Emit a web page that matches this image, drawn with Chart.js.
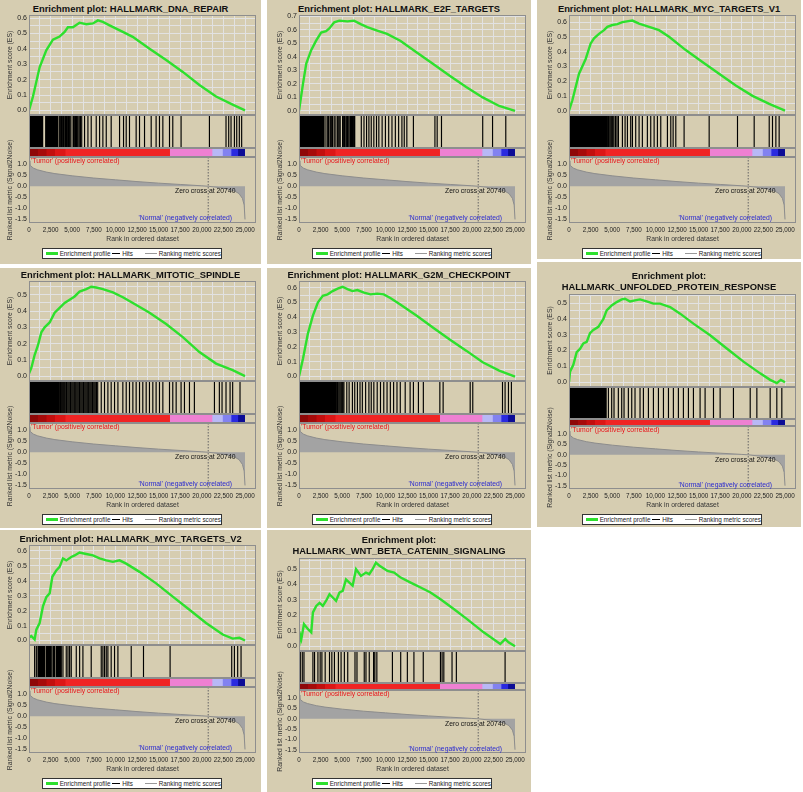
<!DOCTYPE html>
<html lang="en">
<head>
<meta charset="UTF-8">
<title>GSEA enrichment plots</title>
<script src="https://cdn.jsdelivr.net/npm/chart.js"></script>
<style>
  html, body { margin: 0; padding: 0; background: #fff; }
  body { width: 803px; height: 792px; position: relative; overflow: hidden; font-family: 'Liberation Sans', Arial, sans-serif; }
  .panel { position: absolute; background: #d6cdb1; }
  .panel canvas { position: absolute; }
  .ttl { position: absolute; left: 0; right: 0; text-align: center; font-weight: bold; font-size: 9.4px; line-height: 11px; color: #111; white-space: nowrap; }
  .legend { position: absolute; width: 180px; height: 11px; background: #fff; border: 1px solid #333; box-sizing: border-box;
            display: flex; align-items: center; font-size: 6.3px; color: #222; white-space: nowrap; }
  .legend .sw { display: inline-block; height: 0; margin: 0 2px 0 2px; }
</style>
</head>
<body>
<script>
// ---- shared ranked list (Signal2Noise) ----
const metricRank  = [0, 100, 500, 1000, 2000, 3000, 5000, 7500, 10000, 12500, 15000, 17500, 20000, 20740, 22000, 23000, 23800, 24300, 24700, 24900, 25000];
const metricValue = [1.15, 0.95, 0.82, 0.74, 0.64, 0.57, 0.47, 0.37, 0.29, 0.21, 0.14, 0.08, 0.02, 0, -0.06, -0.13, -0.22, -0.33, -0.55, -0.85, -1.5];
const zeroCross = 20740;
const bandEdges  = [0, 1000, 2000, 3000, 4200, 16300, 21200, 22400, 23400, 24200, 25000];
const bandColors = ['#8e0808', '#a60a0a', '#c20e0e', '#dc1616', '#f02424', '#ee80d2', '#b8b8f6', '#8282f0', '#2a2ae0', '#0c0c96'];
const posLabel = "'Tumor' (positively correlated)";
const negLabel = "'Normal' (negatively correlated)";
const xMax = 26270;

// ---- tick values ----
const rankTicks = [0, 2500, 5000, 7500, 10000, 12500, 15000, 17500, 20000, 22500, 25000];
const rankGrid = [0, 1250, 2500, 3750, 5000, 6250, 7500, 8750, 10000, 11250, 12500, 13750, 15000, 16250, 17500, 18750, 20000, 21250, 22500, 23750, 25000];
const esTicks = [0, 0.05, 0.1, 0.15, 0.2, 0.25, 0.3, 0.35, 0.4, 0.45, 0.5, 0.55, 0.6, 0.65, 0.7];
const metricTicks = [-1.5, -1.0, -0.5, 0, 0.5, 1.0];

// ---- running enrichment scores ----
const rankDNA = [0, 460, 1230, 2000, 2770, 3540, 4120, 4500, 5080, 5850, 6630, 7400, 7970, 8550, 9320, 10860, 12000, 13950, 15870, 17800, 19720, 21650, 23570, 25000];
const esDNA   = [0, 0.09, 0.28, 0.39, 0.46, 0.48, 0.51, 0.54, 0.54, 0.57, 0.56, 0.565, 0.585, 0.575, 0.553, 0.51, 0.478, 0.40, 0.327, 0.25, 0.165, 0.09, 0.037, 0];

const rankE2F = [0, 460, 840, 1410, 1980, 2560, 3130, 3510, 4080, 4660, 5610, 6370, 7140, 7900, 9050, 10190, 11720, 13630, 15530, 17440, 19350, 21260, 23170, 25000];
const esE2F   = [0, 0.2, 0.35, 0.45, 0.52, 0.58, 0.59, 0.61, 0.656, 0.668, 0.663, 0.668, 0.643, 0.62, 0.594, 0.57, 0.52, 0.433, 0.347, 0.26, 0.178, 0.10, 0.037, 0];

const rankMYC1 = [0, 390, 1160, 1930, 2510, 2900, 3470, 4050, 4440, 5020, 5600, 6180, 7340, 8110, 9270, 10420, 11580, 13510, 15440, 17370, 19300, 21240, 23170, 25000];
const esMYC1   = [0, 0.07, 0.25, 0.35, 0.455, 0.49, 0.52, 0.545, 0.568, 0.58, 0.586, 0.60, 0.61, 0.59, 0.568, 0.545, 0.50, 0.41, 0.33, 0.25, 0.17, 0.10, 0.045, 0];

const rankMIT = [0, 270, 650, 1040, 1430, 1810, 2390, 2970, 3540, 4120, 4700, 5280, 5850, 6630, 7200, 7780, 8550, 9710, 10860, 12020, 13950, 15870, 17800, 19720, 21650, 23570, 25000];
const esMIT   = [0.016, 0.05, 0.13, 0.19, 0.27, 0.30, 0.33, 0.39, 0.42, 0.45, 0.47, 0.49, 0.52, 0.535, 0.55, 0.545, 0.535, 0.515, 0.485, 0.45, 0.39, 0.32, 0.24, 0.148, 0.077, 0.037, 0];

const rankG2M = [0, 460, 1030, 1600, 2180, 2750, 3320, 3890, 4470, 5040, 5610, 6180, 6760, 7520, 8280, 9050, 9810, 10570, 11720, 13630, 15530, 17440, 19350, 21260, 23170, 25000];
const esG2M   = [0, 0.12, 0.29, 0.41, 0.50, 0.545, 0.555, 0.577, 0.593, 0.606, 0.59, 0.577, 0.584, 0.566, 0.555, 0.56, 0.555, 0.53, 0.487, 0.41, 0.33, 0.25, 0.175, 0.096, 0.04, 0];

const rankUPR = [0, 120, 500, 890, 1270, 1660, 2050, 2430, 2820, 3400, 3980, 4360, 4940, 5520, 6100, 6480, 7070, 7640, 8220, 8990, 9770, 10540, 11700, 12860, 14400, 16330, 18260, 20190, 22120, 23280, 24050, 24510, 25000];
const esUPR   = [0, 0.067, 0.11, 0.19, 0.21, 0.245, 0.255, 0.31, 0.33, 0.35, 0.40, 0.454, 0.485, 0.506, 0.523, 0.527, 0.51, 0.517, 0.523, 0.51, 0.496, 0.496, 0.475, 0.433, 0.37, 0.297, 0.213, 0.13, 0.056, 0.015, -0.006, 0.015, 0];

const rankMYC2 = [0, 270, 650, 850, 1230, 1620, 2000, 2390, 2700, 3160, 3540, 3930, 4310, 4890, 5280, 5850, 6630, 7400, 8170, 8940, 9710, 10480, 11250, 12790, 14710, 16640, 18570, 20490, 22420, 23570, 24350, 25000];
const esMYC2   = [0.02, 0.03, 0.007, 0.073, 0.117, 0.23, 0.29, 0.316, 0.427, 0.47, 0.493, 0.55, 0.537, 0.56, 0.57, 0.59, 0.58, 0.57, 0.55, 0.537, 0.527, 0.537, 0.515, 0.46, 0.383, 0.294, 0.206, 0.117, 0.04, 0.013, 0.018, 0];

const rankWNT = [0, 150, 270, 575, 1040, 1420, 1610, 2000, 2380, 2760, 3140, 3530, 3910, 4290, 4680, 5060, 5440, 5830, 6210, 6600, 7170, 7750, 8130, 8510, 8900, 9280, 10240, 11010, 11770, 12920, 14070, 15220, 16380, 17910, 19450, 21370, 23290, 23870, 24250, 25000];
const esWNT   = [0, 0.07, 0.047, 0.143, 0.11, 0.09, 0.218, 0.26, 0.28, 0.26, 0.293, 0.335, 0.314, 0.293, 0.346, 0.357, 0.43, 0.41, 0.39, 0.496, 0.453, 0.474, 0.464, 0.496, 0.538, 0.52, 0.485, 0.474, 0.442, 0.41, 0.378, 0.346, 0.303, 0.24, 0.175, 0.09, 0.015, 0.047, 0.026, 0];

// ---- hit positions (rank of each gene set member) ----
const hitsDNA = [20, 110, 190, 260, 340, 420, 500, 580, 650, 730, 810, 880, 960, 1040, 1110, 1190, 1270, 1350, 1430, 1500, 1580, 1930, 2010, 2090, 2170, 2250, 2330, 2400, 2480, 2560, 2640, 2720, 2800, 2880, 2960, 3040, 3120, 3200, 3290, 3480, 3620, 3760, 3900, 4000, 4150, 4250, 4330, 4420, 4560, 4700, 4850, 5100, 5230, 5370, 5500, 5640, 5800, 5950, 6100, 6430, 6820, 7200, 7780, 8170, 8550, 8940, 9510, 10480, 10940, 11250, 11630, 12400, 12790, 13370, 14140, 14710, 15100, 15490, 16260, 16640, 17600, 20880, 22800, 23110, 23380, 23770, 24040, 24340, 24610];
const hitsE2F = [10, 90, 170, 250, 330, 410, 490, 570, 650, 730, 810, 890, 970, 1050, 1130, 1210, 1290, 1370, 1450, 1530, 1610, 1690, 1770, 1850, 1930, 2010, 2090, 2170, 2250, 2330, 2410, 2490, 2570, 2650, 2730, 2810, 2900, 3120, 3320, 3450, 3630, 3780, 3890, 4080, 4270, 4470, 4620, 4770, 5040, 5180, 5310, 5470, 5610, 5760, 5920, 6050, 6180, 6320, 6450, 7210, 7520, 7820, 8090, 8360, 8660, 8970, 9240, 9620, 10000, 10380, 10760, 11150, 11530, 11910, 12180, 12480, 13240, 15730, 15990, 16490, 21260, 22400, 23930];
const hitsMYC1 = [10, 100, 190, 280, 370, 460, 550, 640, 730, 820, 910, 1000, 1090, 1180, 1270, 1360, 1450, 1540, 1630, 1720, 1810, 1900, 1990, 2080, 2170, 2260, 2350, 2440, 2530, 2620, 2710, 2800, 2890, 2980, 3070, 3160, 3250, 3340, 3430, 3520, 3610, 3700, 3820, 3950, 4080, 4200, 4330, 4470, 4600, 4750, 4900, 5050, 5200, 5380, 5550, 5720, 6180, 6490, 6760, 7140, 7340, 7720, 8110, 8490, 9070, 9460, 9850, 10230, 10620, 11390, 11780, 12050, 12360, 13320, 16220, 19500, 21430, 23170, 23550, 23940, 24320];
const hitsMIT = [10, 100, 190, 280, 370, 460, 550, 640, 730, 820, 910, 1000, 1090, 1180, 1270, 1360, 1450, 1540, 1630, 1720, 1810, 1900, 1990, 2080, 2170, 2260, 2350, 2440, 2530, 2620, 2710, 2800, 2900, 3000, 3120, 3250, 3380, 3500, 3640, 3780, 3920, 4060, 4200, 4350, 4500, 4650, 4800, 4950, 5100, 5250, 5400, 5550, 5700, 5850, 6000, 6150, 6300, 6450, 6600, 6750, 6900, 7050, 7200, 7350, 7500, 7650, 7800, 7950, 8360, 8740, 9130, 9510, 9900, 10290, 10860, 11250, 11630, 12020, 12400, 12790, 13170, 13560, 13940, 14330, 14710, 15100, 15490, 16260, 16640, 17030, 17600, 17990, 18570, 19140, 21460, 22030, 22340, 22800, 23270, 23570, 24420];
const hitsG2M = [10, 90, 170, 250, 330, 410, 490, 570, 650, 730, 810, 890, 970, 1050, 1130, 1210, 1290, 1370, 1450, 1530, 1610, 1690, 1770, 1850, 1930, 2010, 2090, 2170, 2250, 2330, 2410, 2490, 2570, 2650, 2730, 2810, 2890, 2970, 3050, 3150, 3250, 3350, 3450, 3560, 3680, 3800, 3920, 4050, 4180, 4310, 4450, 4600, 4750, 4900, 5050, 5200, 5530, 5800, 6180, 6450, 6760, 7060, 7330, 7710, 8090, 8360, 8660, 9050, 9430, 9810, 10190, 10570, 10950, 11340, 11720, 12290, 12860, 13240, 13820, 14390, 16300, 16680, 19810, 20110, 23550, 23850, 24240, 24580];
const hitsUPR = [20, 150, 280, 410, 540, 670, 800, 930, 1060, 1190, 1320, 1450, 1580, 1710, 1840, 1970, 2100, 2230, 2360, 2490, 2620, 2750, 2880, 3010, 3140, 3270, 3400, 3530, 3660, 3790, 3920, 4050, 4180, 4300, 4560, 4940, 5210, 5710, 6100, 6370, 6870, 7260, 7640, 8220, 8610, 9190, 9770, 10350, 10930, 11510, 12080, 12660, 13240, 13820, 14400, 15170, 15750, 16720, 17490, 19030, 20970, 21740, 23280, 24050, 24630];
const hitsMYC2 = [650, 850, 1040, 1100, 1230, 1300, 1430, 1500, 1620, 1700, 1810, 2000, 2100, 2200, 2300, 2390, 2500, 2580, 2770, 2900, 2970, 3160, 3250, 3350, 3450, 3540, 3650, 3740, 3930, 4310, 4510, 4700, 4890, 5470, 5860, 6240, 7200, 8360, 8550, 8740, 8940, 9130, 9510, 9900, 10290, 11830, 13250, 16330, 23460, 23770, 24150, 24540];
const hitsWNT = [150, 380, 575, 1610, 1800, 2190, 2450, 2650, 3030, 3530, 3800, 4100, 4560, 4870, 5250, 5640, 6480, 6710, 7550, 7750, 8130, 8630, 8780, 9010, 10810, 11770, 12540, 13300, 14380, 16370, 16560, 16760, 17710, 18210, 23850];

// ---- panel layout ----
const LAYOUT1 = { titleTop: [3], esTop: 15, esBot: 115, hitsBot: 148, barBot: 157, metBot: 223, metMax: 1.32 };
const LAYOUT2 = { titleTop: [4, 15], esTop: 28, esBot: 121, hitsBot: 153, barBot: 160, metBot: 223, metMax: 1.4 };
const metMin = -1.66;

const panels = [
  { title: ['Enrichment plot: HALLMARK_DNA_REPAIR'], rank: rankDNA, es: esDNA, hits: hitsDNA, esMax: 0.62, box: [0, 0, 261, 264], ox: 0, oy: 0 },
  { title: ['Enrichment plot: HALLMARK_E2F_TARGETS'], rank: rankE2F, es: esE2F, hits: hitsE2F, esMax: 0.71, box: [267, 0, 264, 264], ox: 270, oy: 0 },
  { title: ['Enrichment plot: HALLMARK_MYC_TARGETS_V1'], rank: rankMYC1, es: esMYC1, hits: hitsMYC1, esMax: 0.648, box: [537, 0, 264, 259], ox: 540, oy: 0 },
  { title: ['Enrichment plot: HALLMARK_MITOTIC_SPINDLE'], rank: rankMIT, es: esMIT, hits: hitsMIT, esMax: 0.585, box: [0, 268, 261, 260], ox: 0, oy: 266 },
  { title: ['Enrichment plot: HALLMARK_G2M_CHECKPOINT'], rank: rankG2M, es: esG2M, hits: hitsG2M, esMax: 0.645, box: [267, 268, 264, 260], ox: 270, oy: 266 },
  { title: ['Enrichment plot:', 'HALLMARK_UNFOLDED_PROTEIN_RESPONSE'], rank: rankUPR, es: esUPR, hits: hitsUPR, esMax: 0.557, box: [537, 262, 264, 265], ox: 540, oy: 266, two: true },
  { title: ['Enrichment plot: HALLMARK_MYC_TARGETS_V2'], rank: rankMYC2, es: esMYC2, hits: hitsMYC2, esMax: 0.64, box: [0, 530, 261, 262], ox: 0, oy: 530 },
  { title: ['Enrichment plot:', 'HALLMARK_WNT_BETA_CATENIN_SIGNALING'], rank: rankWNT, es: esWNT, hits: hitsWNT, esMax: 0.568, box: [267, 530, 264, 262], ox: 270, oy: 530, two: true }
];

Chart.defaults.font.family = "'Liberation Sans', Arial, sans-serif";
Chart.defaults.font.size = 7;
Chart.defaults.color = '#222';
Chart.defaults.animation = false;
Chart.defaults.plugins.legend.display = false;
Chart.defaults.plugins.tooltip.enabled = false;

const axisWidth = s => { s.width = 29; };
// replace generated ticks with a fixed list (clipped to the axis range)
const useTicks = list => s => { s.ticks = list.filter(v => v >= s.min - 1e-9 && v <= s.max + 1e-9).map(v => ({ value: v })); };
const titleFont = { size: 6.8 };

// grey frame around every stacked sub-plot
const framePlugin = {
  id: 'frame',
  afterDatasetsDraw(chart) {
    const { ctx, chartArea: a } = chart;
    ctx.save();
    ctx.strokeStyle = '#8e8e8e';
    ctx.lineWidth = 1;
    Object.values(chart.scales).forEach(s => {
      if (s.axis !== 'y') return;
      ctx.strokeRect(Math.round(a.left) + 0.5, Math.round(s.top) + 0.5, Math.round(a.right - a.left) - 1, Math.round(s.bottom - s.top) - 1);
    });
    ctx.restore();
  }
};

// phenotype labels and zero-cross note on the ranked list plot
const notePlugin = {
  id: 'notes',
  afterDatasetsDraw(chart) {
    const { ctx } = chart;
    const x = chart.scales.x, y = chart.scales.yMet;
    ctx.save();
    ctx.font = "6.8px 'Liberation Sans', Arial, sans-serif";
    ctx.textBaseline = 'middle';
    ctx.textAlign = 'left';
    ctx.fillStyle = '#e8141a';
    ctx.fillText(posLabel, x.getPixelForValue(0) + 2, y.top + 4.5);
    ctx.textAlign = 'center';
    ctx.fillStyle = '#111';
    ctx.fillText('Zero cross at ' + zeroCross, x.getPixelForValue(zeroCross) - 3, y.getPixelForValue(0) + 5);
    ctx.textAlign = 'right';
    ctx.fillStyle = '#2a2ad0';
    ctx.fillText(negLabel, x.getPixelForValue(23500), y.getPixelForValue(-1.45));
    ctx.restore();
  }
};

function addCanvas(parent, left, top, w, h) {
  const c = document.createElement('canvas');
  c.width = w; c.height = h;
  c.style.left = left + 'px'; c.style.top = top + 'px';
  c.style.width = w + 'px'; c.style.height = h + 'px';
  parent.appendChild(c);
  return c;
}

panels.forEach(p => {
  const L = p.two ? LAYOUT2 : LAYOUT1;
  const div = document.createElement('div');
  div.className = 'panel';
  div.style.left = p.box[0] + 'px'; div.style.top = p.box[1] + 'px';
  div.style.width = p.box[2] + 'px'; div.style.height = p.box[3] + 'px';
  document.body.appendChild(div);
  const dx = p.ox - p.box[0], dy = p.oy - p.box[1];

  p.title.forEach((line, k) => {
    const t = document.createElement('div');
    t.className = 'ttl';
    t.textContent = line;
    t.style.top = (dy + L.titleTop[k]) + 'px';
    div.appendChild(t);
  });

  // enrichment score plot
  const c1 = addCanvas(div, dx, dy + L.esTop - 8, 262, L.esBot - L.esTop + 16);
  new Chart(c1, {
    type: 'line',
    data: { datasets: [{
      data: p.rank.map((r, k) => ({ x: r, y: p.es[k] })),
      borderColor: '#2de02d', borderWidth: 2.4, pointRadius: 0, fill: false
    }] },
    options: {
      responsive: false,
      layout: { padding: { top: 8, bottom: 8, left: 0, right: 6 } },
      scales: {
        x: { type: 'linear', min: 0, max: xMax, afterBuildTicks: useTicks(rankGrid),
             ticks: { display: false }, grid: { color: '#e2e2e2', drawTicks: false }, border: { display: false } },
        y: { min: -0.03, max: p.esMax, afterFit: axisWidth, afterBuildTicks: useTicks(esTicks),
             ticks: { padding: 2, autoSkip: false,
                      callback: v => Math.abs(v * 10 - Math.round(v * 10)) < 1e-6 ? v.toFixed(1) : '' },
             grid: { color: '#e2e2e2', drawTicks: false }, border: { display: false },
             title: { display: true, text: 'Enrichment score (ES)', font: titleFont, color: '#333', padding: { top: 6, bottom: 0 } } }
      }
    },
    plugins: [framePlugin]
  });

  // hits, phenotype bar and ranked list metric
  const top2 = L.esBot - 30;
  const c2 = addCanvas(div, dx, dy + top2, 262, 30 + (L.metBot - L.esBot) + 24);
  // each colour band runs to the end of the list; the next band is painted over it, so no seams
  const bandSets = bandColors.map((col, k) => ({
    data: [{ x: bandEdges[k], y: 1 }, { x: bandEdges[bandEdges.length - 1], y: 1 }],
    yAxisID: 'yBar', fill: 'start', backgroundColor: col, borderWidth: 0, pointRadius: 0, order: 100 - k
  }));
  new Chart(c2, {
    type: 'line',
    data: { datasets: [
      ...bandSets,
      { data: p.hits.flatMap(r => [{ x: r, y: 0 }, { x: r, y: 1 }, { x: r, y: null }]),
        yAxisID: 'yHits', borderColor: '#000', borderWidth: 1.15, pointRadius: 0, fill: false, spanGaps: false },
      { data: metricRank.map((r, k) => ({ x: r, y: metricValue[k] })),
        yAxisID: 'yMet', fill: 'origin', backgroundColor: '#a3a3a3', borderColor: '#8c8c8c', borderWidth: 1, pointRadius: 0 },
      { data: [{ x: zeroCross, y: L.metMax }, { x: zeroCross, y: metMin }],
        yAxisID: 'yMet', borderColor: '#666', borderWidth: 1, borderDash: [1.5, 1.5], pointRadius: 0, fill: false }
    ] },
    options: {
      responsive: false,
      layout: { padding: { top: 30, bottom: 2, left: 0, right: 6 } },
      scales: {
        x: { type: 'linear', min: 0, max: xMax, afterBuildTicks: useTicks(rankTicks), afterFit: s => { s.height = 22; },
             ticks: { autoSkip: false, maxRotation: 0, padding: 3, font: { size: 6.3 }, callback: v => v.toLocaleString('en-US') },
             grid: { display: false, drawTicks: false }, border: { display: false },
             title: { display: true, text: 'Rank in ordered dataset', font: titleFont, color: '#333', padding: { top: 0, bottom: 2 } } },
        yHits: { position: 'left', stack: 'gsea', stackWeight: L.hitsBot - L.esBot, weight: 3, min: 0, max: 1, afterFit: axisWidth,
                 ticks: { display: false }, grid: { display: false, drawTicks: false }, border: { display: false } },
        yBar: { position: 'left', stack: 'gsea', stackWeight: L.barBot - L.hitsBot, weight: 2, min: 0, max: 1, afterFit: axisWidth,
                ticks: { display: false }, grid: { display: false, drawTicks: false }, border: { display: false } },
        yMet: { position: 'left', stack: 'gsea', stackWeight: L.metBot - L.barBot, weight: 1, min: metMin, max: L.metMax, afterFit: axisWidth,
                afterBuildTicks: useTicks(metricTicks),
                ticks: { padding: 2, autoSkip: false, callback: v => v.toFixed(1) },
                grid: { display: false, drawTicks: false }, border: { display: false },
                title: { display: true, text: 'Ranked list metric (Signal2Noise)', font: titleFont, color: '#333', padding: { top: 6, bottom: 0 } } }
      }
    },
    plugins: [framePlugin, notePlugin]
  });

  // legend
  const lg = document.createElement('div');
  lg.className = 'legend';
  lg.style.left = (dx + 42) + 'px';
  lg.style.top = (dy + 248) + 'px';
  const items = [['Enrichment profile', '3px solid #2de02d', 12, 1], ['Hits', '1px solid #000', 8, 0], ['Ranking metric scores', '1px solid #999', 12, 10]];
  items.forEach(([txt, line, w, gap]) => {
    const sw = document.createElement('span');
    sw.className = 'sw';
    sw.style.width = w + 'px';
    sw.style.borderTop = line;
    sw.style.marginLeft = (2 + gap) + 'px';
    lg.appendChild(sw);
    const tx = document.createElement('span');
    tx.textContent = txt;
    lg.appendChild(tx);
  });
  div.appendChild(lg);
});
</script>
</body>
</html>
